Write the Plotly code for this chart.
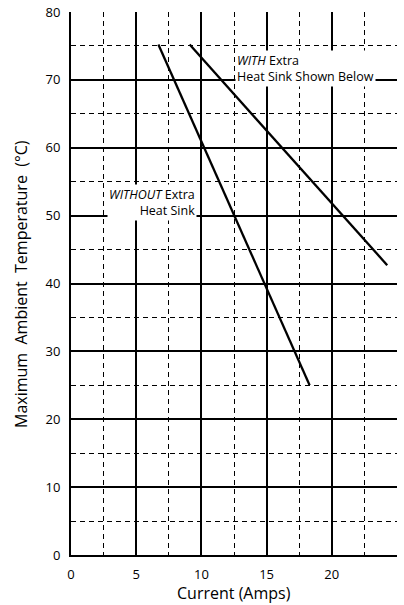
import plotly.graph_objects as go

# Data
without_current = [6.7, 18.3]
without_temp = [75.2, 25.0]
with_current = [9.1, 24.25]
with_temp = [75.2, 42.7]

x_ticks = [0, 5, 10, 15, 20, 25]
y_ticks = [0, 10, 20, 30, 40, 50, 60, 70, 80]

FONT = "Open Sans"

fig = go.Figure()
fig.add_trace(go.Scatter(x=without_current, y=without_temp, mode="lines",
                         line=dict(color="black", width=2.3), showlegend=False,
                         name="WITHOUT Extra Heat Sink"))
fig.add_trace(go.Scatter(x=with_current, y=with_temp, mode="lines",
                         line=dict(color="black", width=2.3), showlegend=False,
                         name="WITH Extra Heat Sink"))

fig.update_layout(
    width=404, height=605,
    margin=dict(l=71, r=7, t=12, b=50, autoexpand=False),
    paper_bgcolor="white", plot_bgcolor="white",
    font=dict(family=FONT, color="black"),
    xaxis=dict(
        range=[0, 25], tickvals=x_ticks, ticktext=[str(v) for v in x_ticks],
        showgrid=True, gridcolor="black", gridwidth=2,
        showline=True, linecolor="black", linewidth=2, zeroline=False,
        ticks="", tickfont=dict(size=13, family=FONT), ticklabelstandoff=6,
        automargin=False,
        minor=dict(dtick=2.5, tick0=0, showgrid=True, gridcolor="black",
                   gridwidth=1.3, griddash="5px,4px"),
    ),
    yaxis=dict(
        range=[0, 80], tickvals=y_ticks, ticktext=[str(v) for v in y_ticks],
        showgrid=True, gridcolor="black", gridwidth=2,
        showline=True, linecolor="black", linewidth=2, zeroline=False,
        ticks="", tickfont=dict(size=13, family=FONT), ticklabelstandoff=6,
        ticklabeloverflow="allow", automargin=False,
        minor=dict(dtick=5, tick0=0, showgrid=True, gridcolor="black",
                   gridwidth=1.3, griddash="5px,4px"),
    ),
    annotations=[
        dict(x=0.5, y=-0.0705, xref="paper", yref="paper", xanchor="center", yanchor="middle",
             text="Current (Amps)", showarrow=False, font=dict(size=16, family=FONT)),
        dict(x=-0.155, y=0.5, xref="paper", yref="paper", xanchor="center", yanchor="middle",
             text="Maximum  Ambient  Temperature  (°C)", textangle=-90,
             showarrow=False, font=dict(size=16, family=FONT)),
        dict(x=12.6, y=74.4, xref="x", yref="y", xanchor="left", yanchor="top",
             text="<i>WITH</i> Extra<br>Heat Sink Shown Below", align="left",
             showarrow=False, bgcolor="white", font=dict(size=12.5, family=FONT),
             borderpad=1),
        dict(x=9.7, y=54.6, xref="x", yref="y", xanchor="right", yanchor="top",
             text="<i>WITHOUT</i> Extra<br>Heat Sink", align="right",
             showarrow=False, bgcolor="white", font=dict(size=12.5, family=FONT),
             borderpad=1),
    ],
)

# Remove the default 8px page margin so the figure fills the window exactly.
fig.write_html("out.html", config={"displayModeBar": False},
               post_script="document.body.style.margin='0';document.body.style.overflow='hidden';")
